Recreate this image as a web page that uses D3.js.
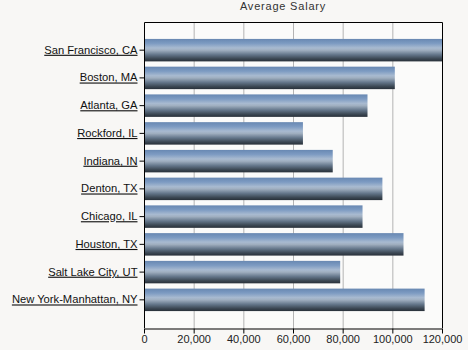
<!DOCTYPE html>
<html><head><meta charset="utf-8">
<script src="https://cdn.jsdelivr.net/npm/d3@7"></script>
<style>
html,body{margin:0;padding:0;background:#f8f7f5;}
svg{display:block;font-family:"Liberation Sans",Arial,sans-serif;}
</style></head>
<body><svg id="c" width="468" height="350"></svg>
<script>
const categories = ["San Francisco, CA","Boston, MA","Atlanta, GA","Rockford, IL","Indiana, IN","Denton, TX","Chicago, IL","Houston, TX","Salt Lake City, UT","New York-Manhattan, NY"];
const salaries = [120000,101000,90000,64000,76000,96000,88000,104500,79000,113000];
const xTicks = [0,20000,40000,60000,80000,100000,120000];
const title = "Average Salary";

const svg = d3.select("#c");
const L=144, R=442, T=22, B=328;
const x = d3.scaleLinear().domain([0,120000]).range([L,R]);
const y = d3.scaleBand().domain(categories).range([T,B]).paddingInner(0.19).paddingOuter(0.61);

const defs = svg.append("defs");
const g = defs.append("linearGradient").attr("id","bar").attr("x1",0).attr("y1",0).attr("x2",0).attr("y2",1);
[[0,"#6888b2"],[0.2,"#7d9bc2"],[0.4,"#a8bad0"],[0.5,"#a0afc0"],[0.7,"#64768a"],[0.88,"#3c4854"],[1,"#283039"]]
  .forEach(([o,c])=>g.append("stop").attr("offset",o).attr("stop-color",c));

svg.append("rect").attr("x",L).attr("y",T).attr("width",R-L).attr("height",B-T).attr("fill","#fbfbfa");

// gridlines
svg.append("g").selectAll("line").data(xTicks.slice(1,-1)).join("line")
  .attr("x1",d=>x(d)+0.5).attr("x2",d=>x(d)+0.5).attr("y1",T).attr("y2",B)
  .attr("stroke","#b4b4b4").attr("stroke-width",1);

// bars
svg.append("g").selectAll("rect").data(salaries).join("rect")
  .attr("x",x(0)).attr("y",(d,i)=>y(categories[i]))
  .attr("width",d=>x(d)-x(0)).attr("height",y.bandwidth())
  .attr("fill","url(#bar)");

// frame
svg.append("path").attr("d",`M${L+0.5},${B}V${T+0.5}H${R+0.5}V${B}`).attr("fill","none").attr("stroke","#000");

// x axis
const xa = svg.append("g").attr("transform",`translate(0,${B+0.5})`)
  .call(d3.axisBottom(x).tickValues(xTicks).tickFormat(d3.format(",")).tickSize(5).tickSizeOuter(0).tickPadding(2));
xa.select(".domain").attr("stroke","#000");
xa.selectAll("line").attr("stroke","#000");
xa.selectAll("text").attr("font-size",11).attr("fill","#222").attr("font-family","Liberation Sans, Arial, sans-serif");

// y axis
const ya = svg.append("g").attr("transform",`translate(${L+0.5},0)`)
  .call(d3.axisLeft(y).tickSize(5).tickSizeOuter(0).tickPadding(2));
ya.select(".domain").remove();
ya.selectAll("line").attr("stroke","#000");
ya.selectAll("text").attr("font-size",11.2).attr("fill","#111")
  .attr("font-family","Liberation Sans, Arial, sans-serif")
  .attr("text-decoration","underline");

svg.append("text").attr("x",283).attr("y",10).attr("text-anchor","middle")
  .attr("font-size",11).attr("fill","#333").attr("letter-spacing","0.8px").text(title);
</script></body></html>
